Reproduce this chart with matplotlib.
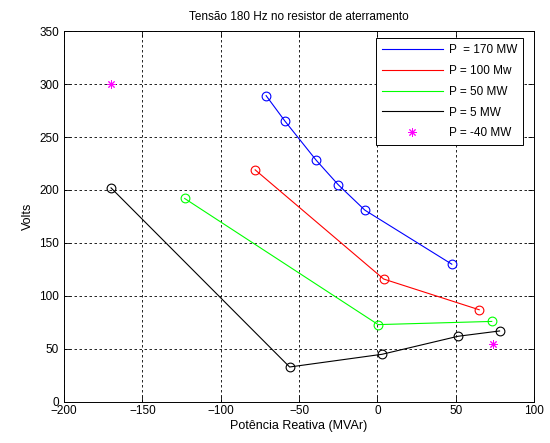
import matplotlib
matplotlib.use('Agg')
import matplotlib.pyplot as plt

plt.rcParams['font.family'] = ['Liberation Sans', 'DejaVu Sans']

# potencia reativa (MVAr) e tensao (V) para cada potencia ativa
q_170 = [-71, -59, -39, -25, -8, 47.5]
v_170 = [289, 265, 228, 205, 181, 130]

q_100 = [-78, 4, 65]
v_100 = [219, 116, 87]

q_50 = [-123, 0.5, 73]
v_50 = [192, 73, 76]

q_5 = [-170, -56, 3, 51.5, 78]
v_5 = [202, 33, 45, 62, 67]

q_m40 = [-170, 74]
v_m40 = [300, 55]

labels = ['P  = 170 MW', 'P = 100 Mw', 'P = 50 MW', 'P = 5 MW', 'P = -40 MW']


def main():
    fig = plt.figure(figsize=(5.5, 4.43), dpi=100)
    ax = fig.add_axes([0.1164, 0.0926, 0.8546, 0.8374])

    ax.plot(q_170, v_170, color='#0000ff', lw=0.8, label=labels[0])
    ax.plot(q_100, v_100, color='#ff0000', lw=0.8, label=labels[1])
    ax.plot(q_50, v_50, color='#00ff00', lw=0.8, label=labels[2])
    ax.plot(q_5, v_5, color='black', lw=0.8, label=labels[3])
    # asterisco estilo matlab (8 raios)
    ax.plot(q_m40, v_m40, ls='none', marker=(8, 2, 0), color='#ff00ff', ms=6,
            markeredgewidth=0.7, label=labels[4])

    for q, v, c in [(q_170, v_170, '#0000ff'), (q_100, v_100, '#ff0000'),
                    (q_50, v_50, '#00ff00'), (q_5, v_5, 'black')]:
        ax.plot(q, v, ls='none', marker='o', ms=6.3, mfc='none', mec=c, mew=0.8)

    ax.set_xlim(-200, 100)
    ax.set_ylim(0, 350)
    ax.set_xticks(range(-200, 101, 50))
    ax.set_yticks(range(0, 351, 50))
    ax.tick_params(direction='in', top=True, right=True, labelsize=8.5, length=4, width=0.6)
    ax.tick_params(axis='x', pad=2)
    ax.grid(True, color='black', ls=(0, (3, 3)), lw=0.6)
    for s in ax.spines.values():
        s.set_linewidth(0.7)

    ax.set_title('Tensão 180 Hz no resistor de aterramento', fontsize=8.5, pad=8)
    ax.set_xlabel('Potência Reativa (MVAr)', fontsize=9, labelpad=2)
    ax.set_ylabel('Volts', fontsize=9, labelpad=4)

    leg = ax.legend(loc='upper right', bbox_to_anchor=(0.977, 0.981), fontsize=8.5,
                    fancybox=False, framealpha=1, edgecolor='black',
                    borderaxespad=0, handlelength=5.2, handletextpad=0.5,
                    labelspacing=0.75, borderpad=0.5)
    leg.get_frame().set_linewidth(0.7)

    fig.savefig('out.png', dpi=100)


if __name__ == '__main__':
    main()
